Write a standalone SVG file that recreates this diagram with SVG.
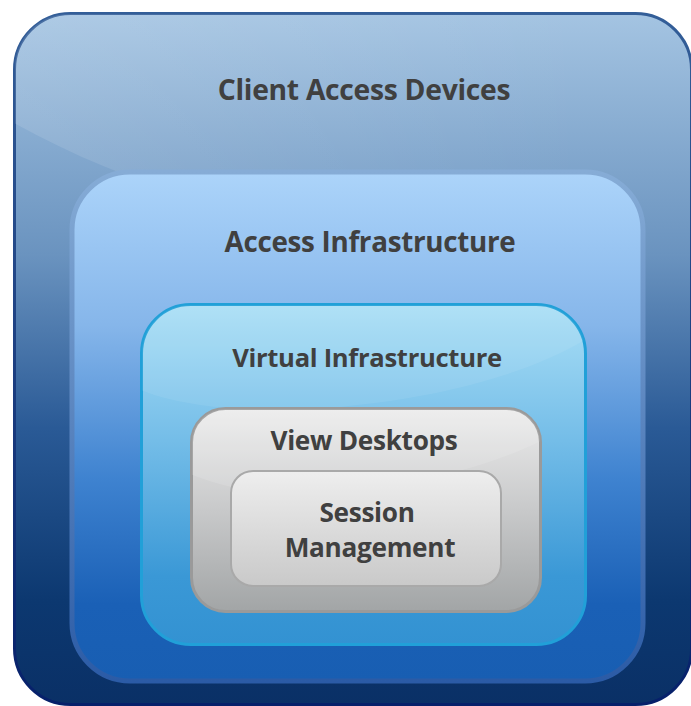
<svg xmlns="http://www.w3.org/2000/svg" width="691" height="706" viewBox="0 0 691 706">
<defs>
<linearGradient id="g1" x1="0" y1="0" x2="0" y2="1">
<stop offset="0" stop-color="#a4c4e2"/>
<stop offset="0.35" stop-color="#6a93bf"/>
<stop offset="0.6" stop-color="#2a5a96"/>
<stop offset="0.85" stop-color="#0c3870"/>
<stop offset="1" stop-color="#0a3066"/>
</linearGradient>
<linearGradient id="s1" x1="0" y1="0" x2="0" y2="1">
<stop offset="0" stop-color="#335e98"/>
<stop offset="1" stop-color="#06206a"/>
</linearGradient>
<linearGradient id="g2" x1="0" y1="0" x2="0" y2="1">
<stop offset="0" stop-color="#acd4fa"/>
<stop offset="0.3" stop-color="#86b6ea"/>
<stop offset="0.6" stop-color="#3f83d0"/>
<stop offset="0.85" stop-color="#1a60b6"/>
<stop offset="1" stop-color="#185eb2"/>
</linearGradient>
<linearGradient id="s2" x1="0" y1="0" x2="0" y2="1">
<stop offset="0" stop-color="#86acd6"/>
<stop offset="1" stop-color="#2b5ba6"/>
</linearGradient>
<linearGradient id="g3" x1="0" y1="0" x2="0" y2="1">
<stop offset="0" stop-color="#aadff6"/>
<stop offset="0.4" stop-color="#74bde8"/>
<stop offset="0.8" stop-color="#3a98d6"/>
<stop offset="1" stop-color="#3392d2"/>
</linearGradient>
<linearGradient id="g4" x1="0" y1="0" x2="0" y2="1">
<stop offset="0" stop-color="#ececec"/>
<stop offset="0.5" stop-color="#c8c9ca"/>
<stop offset="1" stop-color="#a2a5a6"/>
</linearGradient>
<linearGradient id="g5" x1="0" y1="0" x2="0" y2="1">
<stop offset="0" stop-color="#eeeeee"/>
<stop offset="1" stop-color="#c9c9c9"/>
</linearGradient>
<linearGradient id="hl" x1="0" y1="0" x2="1" y2="0">
<stop offset="0" stop-color="#ffffff" stop-opacity="0.12"/>
<stop offset="0.5" stop-color="#ffffff" stop-opacity="0.05"/>
<stop offset="0.85" stop-color="#ffffff" stop-opacity="0"/>
</linearGradient>
<clipPath id="c1"><rect x="15" y="14" width="674" height="689" rx="54"/></clipPath>
<clipPath id="c3"><rect x="142" y="305" width="443" height="339" rx="48"/></clipPath>
<clipPath id="c4"><rect x="192" y="409" width="348" height="202" rx="33"/></clipPath>
</defs>
<style>
.t{font-family:"Open Sans","DejaVu Sans",sans-serif;font-weight:bold;fill:#404040;text-anchor:middle}
</style>
<g id="client-access-devices">
<rect x="14.5" y="13.5" width="677" height="691" rx="56" fill="url(#g1)" stroke="url(#s1)" stroke-width="3"/>
<g clip-path="url(#c1)"><path d="M0,0 H691 V190 L200,200 C130,180 60,150 0,115 Z" fill="url(#hl)"/></g>
<text class="t" x="364" y="100" font-size="28.3" letter-spacing="-0.3">Client Access Devices</text>
</g>
<g id="access-infrastructure">
<rect x="72" y="172" width="571" height="509" rx="58" fill="url(#g2)" stroke="url(#s2)" stroke-width="5"/>
<text class="t" x="370" y="252" font-size="27.8" letter-spacing="-0.3">Access Infrastructure</text>
</g>
<g id="virtual-infrastructure">
<rect x="141.5" y="304.5" width="444" height="340" rx="49" fill="url(#g3)" stroke="#21a0d8" stroke-width="3"/>
<g clip-path="url(#c3)"><path d="M130,290 H600 V330 C500,400 300,420 200,405 C170,400 150,395 130,385 Z" fill="#ffffff" opacity="0.07"/></g>
<text class="t" x="367" y="367" font-size="25.6" letter-spacing="-0.3">Virtual Infrastructure</text>
</g>
<g id="view-desktops">
<rect x="191.5" y="408.5" width="349" height="203" rx="34" fill="url(#g4)" stroke="#9a9a9a" stroke-width="3"/>
<g clip-path="url(#c4)"><path d="M180,400 H560 V430 C480,480 330,500 250,490 C225,487 205,480 180,470 Z" fill="#ffffff" opacity="0.12"/></g>
<text class="t" x="364" y="450" font-size="26.2" letter-spacing="-0.3">View Desktops</text>
</g>
<g id="session-management">
<rect x="231" y="471" width="270" height="115" rx="22" fill="url(#g5)" stroke="#a9a9a9" stroke-width="2"/>
<text class="t" x="367" y="522" font-size="26.2" letter-spacing="-0.3">Session</text>
<text class="t" x="370" y="557" font-size="26.2" letter-spacing="-0.3">Management</text>
</g>
<g id="connectors"/>
</svg>
